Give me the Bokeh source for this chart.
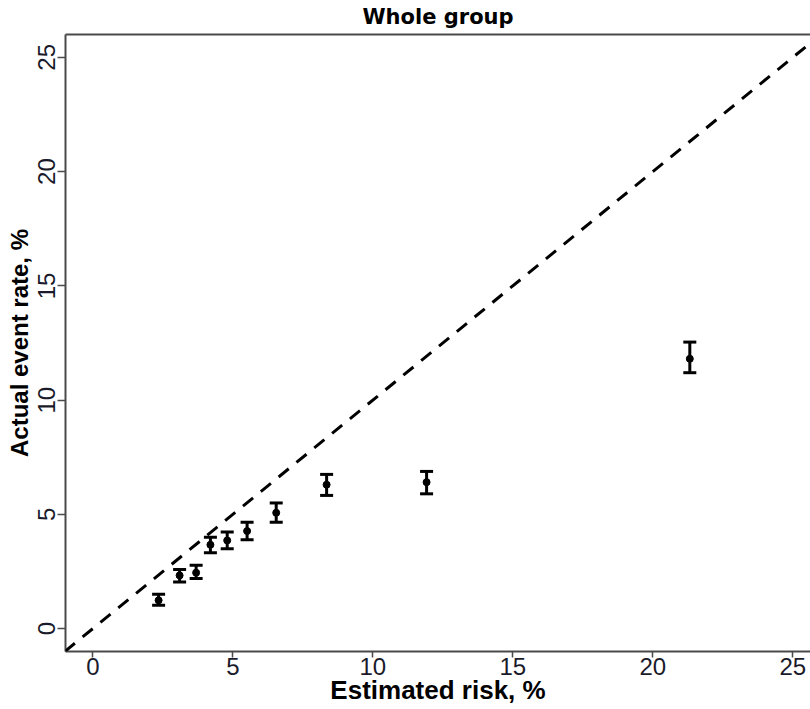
import math
from bokeh.plotting import figure
from bokeh.models import Range1d, LinearAxis, FixedTicker, Whisker, Slope, Title, ColumnDataSource, TeeHead
from bokeh.embed import file_html
from bokeh.resources import INLINE

# Data
estimated_risk = [2.35, 3.10, 3.69, 4.20, 4.80, 5.51, 6.55, 8.35, 11.92, 21.32]
actual_rate    = [1.24, 2.33, 2.45, 3.67, 3.86, 4.27, 5.07, 6.30, 6.41, 11.81]
ci_lower       = [1.02, 2.04, 2.19, 3.32, 3.50, 3.89, 4.66, 5.83, 5.90, 11.20]
ci_upper       = [1.50, 2.59, 2.77, 4.00, 4.23, 4.66, 5.50, 6.75, 6.88, 12.54]
tick_values = [0, 5, 10, 15, 20, 25]

title_text = "Whole group"
x_label = "Estimated risk, %"
y_label = "Actual event rate, %"

src = ColumnDataSource(dict(x=estimated_risk, y=actual_rate, lo=ci_lower, hi=ci_upper))

p = figure(width=810, height=709,
           x_range=Range1d(-0.975, 25.63), y_range=Range1d(-1, 26),
           output_backend="svg", toolbar_location=None,
           min_border_left=65, min_border_right=0, min_border_top=34, min_border_bottom=58,
           x_axis_location=None, y_axis_location=None)
p.outline_line_color = None
p.xgrid.visible = False
p.ygrid.visible = False
p.background_fill_color = "white"
p.border_fill_color = "white"

axis_color = "#4a4a4a"
label_color = "#1a1a2a"

xaxis = LinearAxis(ticker=FixedTicker(ticks=tick_values), axis_label=x_label)
xaxis.axis_line_color = axis_color
xaxis.axis_line_width = 2
xaxis.major_tick_line_color = axis_color
xaxis.major_tick_line_width = 1.5
xaxis.major_tick_out = 6
xaxis.major_tick_in = 0
xaxis.minor_tick_line_color = None
xaxis.major_label_standoff = 0
xaxis.major_label_text_font = "Liberation Sans"
xaxis.major_label_text_font_size = "24px"
xaxis.major_label_text_color = label_color
xaxis.axis_label_standoff = -3
xaxis.axis_label_text_font = "Liberation Sans"
xaxis.axis_label_text_font_style = "bold"
xaxis.axis_label_text_font_size = "26px"
xaxis.axis_label_text_color = "black"
p.add_layout(xaxis, "below")

yaxis = LinearAxis(ticker=FixedTicker(ticks=tick_values), axis_label=y_label)
yaxis.axis_line_color = axis_color
yaxis.axis_line_width = 2
yaxis.major_tick_line_color = axis_color
yaxis.major_tick_line_width = 1.5
yaxis.major_tick_out = 8
yaxis.major_tick_in = 0
yaxis.minor_tick_line_color = None
yaxis.major_label_standoff = 2
yaxis.major_label_orientation = "parallel"
yaxis.major_label_text_font = "Liberation Sans"
yaxis.major_label_text_font_size = "24px"
yaxis.major_label_text_color = label_color
yaxis.axis_label_standoff = 3
yaxis.axis_label_text_font = "Liberation Sans"
yaxis.axis_label_text_font_style = "bold"
yaxis.axis_label_text_font_size = "24px"
yaxis.axis_label_text_color = "black"
p.add_layout(yaxis, "left")

top_axis = LinearAxis(ticker=FixedTicker(ticks=[]))
top_axis.axis_line_color = axis_color
top_axis.axis_line_width = 2
top_axis.major_tick_out = 0
top_axis.major_tick_in = 0
top_axis.minor_tick_line_color = None
top_axis.major_label_standoff = 0
top_axis.major_label_text_font_size = "0px"
p.add_layout(top_axis, "above")

p.title = Title(text=title_text, align="center", offset=4, standoff=7, vertical_align="top",
                text_font="DejaVu Sans", text_font_style="bold", text_font_size="21px",
                text_color="black")

# identity reference line
p.add_layout(Slope(gradient=1, y_intercept=0, line_color="black", line_width=3, line_dash="13 10"))

# error bars
w = Whisker(source=src, base="x", lower="lo", upper="hi", line_color="black", line_width=3,
            upper_head=TeeHead(size=13, line_width=3, line_color="black"),
            lower_head=TeeHead(size=13, line_width=3, line_color="black"))
p.add_layout(w)
p.scatter("x", "y", source=src, size=7, color="black")

open("out.html", "w").write(file_html(p, INLINE))
